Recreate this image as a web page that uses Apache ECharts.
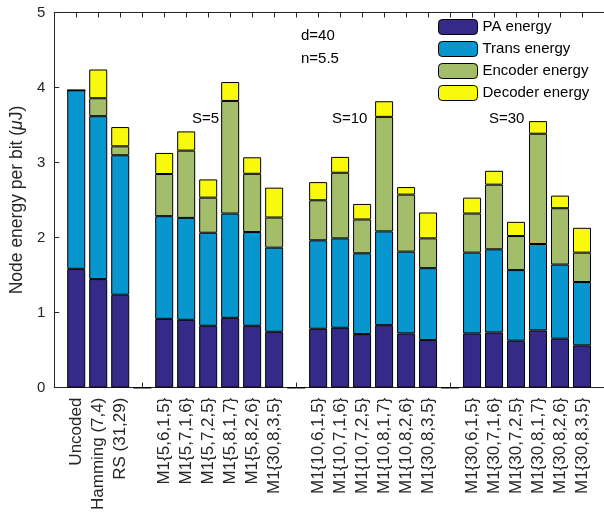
<!DOCTYPE html>
<html>
<head>
<meta charset="utf-8">
<script src="https://cdn.jsdelivr.net/npm/echarts@6/dist/echarts.min.js"></script>
<style>html,body{margin:0;padding:0;background:#fff;}#c{width:604px;height:513px;}</style>
</head>
<body>
<div id="c"></div>
<script>
const categories = ['Uncoded', 'Hamming (7,4)', 'RS (31,29)', '',
  'M1{5,6,1,5}', 'M1{5,7,1,6}', 'M1{5,7,2,5}', 'M1{5,8,1,7}', 'M1{5,8,2,6}', 'M1{30,8,3,5}', '',
  'M1{10,6,1,5}', 'M1{10,7,1,6}', 'M1{10,7,2,5}', 'M1{10,8,1,7}', 'M1{10,8,2,6}', 'M1{30,8,3,5}', '',
  'M1{30,6,1,5}', 'M1{30,7,1,6}', 'M1{30,7,2,5}', 'M1{30,8,1,7}', 'M1{30,8,2,6}', 'M1{30,8,3,5}'];
const paEnergy = [1.583, 1.446, 1.238, 0, 0.916, 0.903, 0.824, 0.930, 0.824, 0.744, 0, 0.784, 0.797, 0.713, 0.832, 0.722, 0.633, 0, 0.722, 0.735, 0.625, 0.762, 0.652, 0.563];
const transEnergy = [2.380, 2.172, 1.859, 0, 1.369, 1.359, 1.240, 1.390, 1.249, 1.121, 0, 1.179, 1.192, 1.077, 1.250, 1.090, 0.959, 0, 1.077, 1.108, 0.941, 1.152, 0.988, 0.844];
const encoderEnergy = [0, 0.239, 0.119, 0, 0.562, 0.897, 0.468, 1.501, 0.777, 0.402, 0, 0.534, 0.875, 0.451, 1.527, 0.760, 0.397, 0, 0.521, 0.862, 0.454, 1.470, 0.751, 0.392];
const decoderEnergy = [0, 0.383, 0.257, 0, 0.281, 0.256, 0.243, 0.252, 0.220, 0.398, 0, 0.242, 0.211, 0.207, 0.208, 0.101, 0.345, 0, 0.212, 0.185, 0.189, 0.168, 0.168, 0.331];
const seriesNames = ['PA energy', 'Trans energy', 'Encoder energy', 'Decoder energy'];
const seriesColors = ['#352a87', '#0896cf', '#a4bd6a', '#f9f90c'];
const yTicks = [0, 1, 2, 3, 4, 5];

const FONT = '"Liberation Sans", Arial, Helvetica, sans-serif';
const AX = '#262626';
const cats = [''].concat(categories, ['']);
const pad = a => [null].concat(a, [null]);
const allData = [paEnergy, transEnergy, encoderEnergy, decoderEnergy];

const chart = echarts.init(document.getElementById('c'), null, {renderer: 'canvas'});
chart.setOption({
  animation: false,
  backgroundColor: '#fff',
  textStyle: {fontFamily: FONT},
  grid: {left: 54, top: 12.5, bottom: 123.5, right: -11.75},
  legend: {
    orient: 'vertical', left: 438, top: 19, itemWidth: 39, itemHeight: 15, itemGap: 6,
    data: seriesNames,
    itemStyle: {borderColor: '#000', borderWidth: 1},
    textStyle: {fontFamily: FONT, fontSize: 15, color: '#000'},
    backgroundColor: '#fff', padding: [0, 4, 0, 0]
  },
  xAxis: [{
    type: 'category', data: cats, boundaryGap: false, position: 'bottom',
    axisLine: {lineStyle: {color: AX, width: 1}},
    axisTick: {inside: true, length: 5, lineStyle: {color: AX}, interval: 0},
    axisLabel: {rotate: 90, interval: 0, margin: 10, fontSize: 17, color: AX, fontFamily: FONT}
  }, {
    type: 'category', data: cats, boundaryGap: false, position: 'top',
    axisLine: {lineStyle: {color: AX, width: 1}},
    axisTick: {inside: true, length: 5, lineStyle: {color: AX}, interval: 0},
    axisLabel: {show: false}
  }],
  yAxis: {
    type: 'value', min: yTicks[0], max: yTicks[yTicks.length - 1], interval: 1,
    name: 'Node energy per bit ({i|μ}J)', nameLocation: 'middle', nameGap: 25,
    nameTextStyle: {fontSize: 17.5, color: AX, fontFamily: FONT, rich: {i: {fontStyle: 'italic', fontSize: 17.5, color: AX, fontFamily: FONT}}},
    axisLine: {show: true, lineStyle: {color: AX}},
    axisTick: {show: true, inside: true, length: 5, lineStyle: {color: AX}},
    axisLabel: {fontSize: 15, color: AX, margin: 9, fontFamily: FONT},
    splitLine: {show: false}
  },
  series: seriesNames.map((n, i) => ({
    name: n, type: 'bar', stack: 'total', xAxisIndex: 0, barWidth: 18,
    data: pad(allData[i]),
    itemStyle: {color: seriesColors[i], borderColor: '#000', borderWidth: 1}
  })),
  graphic: [
    {type: 'text', left: 301, top: 28, style: {text: 'd=40', font: '15px ' + FONT, fill: '#000'}},
    {type: 'text', left: 301, top: 51, style: {text: 'n=5.5', font: '15px ' + FONT, fill: '#000'}},
    {type: 'text', left: 192, top: 111, style: {text: 'S=5', font: '15px ' + FONT, fill: '#000'}},
    {type: 'text', left: 332, top: 111, style: {text: 'S=10', font: '15px ' + FONT, fill: '#000'}},
    {type: 'text', left: 489, top: 111, style: {text: 'S=30', font: '15px ' + FONT, fill: '#000'}}
  ]
});
</script>
</body>
</html>
